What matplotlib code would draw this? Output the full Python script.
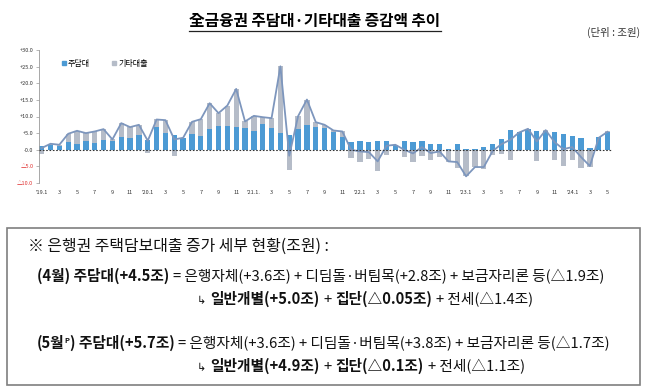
import matplotlib
matplotlib.use("Agg")
import matplotlib.pyplot as plt
import numpy as np
from matplotlib.lines import Line2D
from matplotlib.patches import Rectangle

plt.rcParams["font.family"] = ["Noto Sans CJK KR", "DejaVu Sans"]
FAMILY = ["Noto Sans CJK KR", "DejaVu Sans"]

W, H = 647, 390

# 월별 증감액 (조원), '19.1 ~ '24.5
mortgage = [
    1.0, 1.3, 1.2, 2.3, 1.7, 2.5, 2.0, 3.0, 2.5, 3.7, 3.5, 4.5,
    2.8, 6.8, 5.0, 4.3, 3.5, 4.8, 4.1, 6.3, 7.0, 7.1, 6.7, 6.5,
    5.7, 7.6, 6.4, 5.1, 4.3, 6.3, 7.3, 6.8, 6.5, 5.3, 3.8, 2.3,
    2.5, 2.3, 2.7, 2.5, 1.3, 2.5, 2.4, 2.5, 1.7, 1.7, 0.3, 1.6,
    0.1, 0.1, 0.7, 1.6, 3.2, 6.0, 5.2, 6.3, 5.5, 5.5, 5.3, 4.7,
    4.0, 3.5, 0.4, 3.8, 5.4,
]
other = [
    -1.3, 0.5, 0.3, 2.5, 4.0, 2.5, 3.5, 3.2, 0.6, 4.3, 3.3, 3.0,
    -0.9, 2.3, 3.9, -1.8, 0.1, 3.6, 5.1, 7.7, 4.0, 6.2, 11.6, 2.0,
    4.5, 2.2, 3.1, 20.0, -6.2, 3.8, 7.8, 1.5, 1.0, 0.5, 1.7, -2.5,
    -3.7, -2.9, -6.5, -1.7, 0.2, -2.2, -3.6, -1.9, -3.2, -2.3, -3.6, -5.5,
    -8.0, -5.2, -5.9, -1.7, -1.2, -3.2, -0.4, -0.2, -3.4, 0.3, -3.1, -4.9,
    -3.2, -5.6, -5.3, -0.2, 0.1,
]
total = [
    0.5, 1.8, 1.5, 4.8, 5.7, 5.0, 5.5, 6.2, 3.1, 8.0, 6.8, 7.5,
    2.7, 9.1, 8.9, 3.1, 3.6, 8.4, 9.2, 14.0, 11.0, 13.3, 18.3, 8.5,
    10.2, 9.8, 9.5, 25.1, -1.8, 10.1, 15.1, 8.3, 7.5, 5.8, 5.5, 0.0,
    -0.5, -0.7, -3.5, 1.2, 1.5, 0.0, -1.1, 0.8, -1.0, -0.5, -3.5, -3.7,
    -8.0, -5.2, -5.2, -0.4, 1.7, 3.0, 5.2, 6.3, 2.5, 5.9, 2.3, 0.2,
    0.8, -2.2, -4.9, 3.6, 5.4,
]

x_labels = [
    "'19.1", "3", "5", "7", "9", "11",
    "'20.1", "3", "5", "7", "9", "11",
    "'21.1.", "3", "5", "7", "9", "11",
    "'22.1", "3", "5", "7", "9", "11",
    "'23.1", "3", "5", "7", "9", "11",
    "'24.1", "3", "5",
]
y_ticks = [-10, -5, 0, 5, 10, 15, 20, 25, 30]
y_labels = ["△10.0", "△5.0", "-0.0", "+5.0", "+10.0", "+15.0", "+20.0", "+25.0", "+30.0"]

BLUE = "#4C9AD4"
GRAY = "#B5BCC8"
LINE = "#7D96BD"

fig = plt.figure(figsize=(W / 100, H / 100), dpi=100)

# ---- chart ----
ax = fig.add_axes([39 / W, 1 - 183 / H, 573 / W, 133 / H])
x = np.arange(len(mortgage))
mort = np.array(mortgage)
oth = np.array(other)
bottom_other = np.where(oth >= 0, np.maximum(mort, 0), np.minimum(mort, 0))
ax.bar(x, mort, width=0.6, color=BLUE, zorder=2)
ax.bar(x, oth, width=0.6, bottom=bottom_other, color=GRAY, zorder=2)
ax.plot(x, total, color=LINE, lw=1.3, zorder=3)
ax.axhline(0, color="#333333", lw=0.8, ls=(0, (1.5, 1.5)), zorder=4)

ax.set_xlim(-0.3, 64.5)
ax.set_ylim(-10, 30)
ax.set_yticks(y_ticks)
ax.set_yticklabels(y_labels, fontsize=4.0)
for lab, v in zip(ax.get_yticklabels(), y_ticks):
    lab.set_color("#E03030" if v < 0 else "#333333")
ax.set_xticks(np.arange(0, len(mortgage), 2))
ax.set_xticklabels(x_labels, fontsize=4.0, color="#333333")
ax.tick_params(axis="x", length=0, pad=5)
ax.tick_params(axis="y", length=2, width=0.5, color="#999999", pad=2)
for s in ["top", "right", "bottom"]:
    ax.spines[s].set_visible(False)
ax.spines["left"].set_color("#999999")
ax.spines["left"].set_linewidth(0.6)

handles = [
    Line2D([], [], marker="s", ls="", color=BLUE, markersize=3),
    Line2D([], [], marker="s", ls="", color=GRAY, markersize=3),
]
ax.legend(handles, ["주담대", "기타대출"], loc="upper left", bbox_to_anchor=(0.025, 0.985),
          ncol=2, frameon=False, fontsize=5.8, handletextpad=0.1, columnspacing=2.6,
          handlelength=0.8)

# ---- title ----
renderer = fig.canvas.get_renderer()
title = fig.text(315 / W, 1 - 26 / H, "全금융권 주담대·기타대출 증감액 추이", ha="center",
                 va="baseline", fontsize=11.3, fontweight="bold", family=FAMILY)
tb = title.get_window_extent(renderer)
fig.add_artist(Line2D([tb.x0 / W, tb.x1 / W], [(tb.y0 - 2) / H, (tb.y0 - 2) / H],
                      color="#222222", lw=0.9))
fig.text(640 / W, 1 - 36 / H, "(단위 : 조원)", ha="right", va="baseline", fontsize=7.5,
         color="#333333", family=FAMILY)

# ---- note box ----
fig.add_artist(Rectangle((7 / W, 1 - 385 / H), 633 / W, 157 / H, transform=fig.transFigure,
                         fill=False, ec="#7f7f7f", lw=1.2))


def draw_runs(x_px, y_px, runs, size):
    cur = x_px
    for text, weight, dy, scale, gap in runs:
        cur += gap
        t = fig.text(cur / W, 1 - (y_px - dy) / H, text, fontsize=size * scale,
                     fontweight=weight, va="baseline", ha="left", family=FAMILY,
                     color="#111111")
        cur += t.get_window_extent(renderer).width


SZ = 10.6
draw_runs(28, 251, [("※ 은행권 주택담보대출 증가 세부 현황(조원) :", "normal", 0, 1.08, 0)], SZ)
draw_runs(37, 281, [
    ("(4월) 주담대(+4.5조)", "bold", 0, 1, 0),
    ("= 은행자체(+3.6조) + 디딤돌·버팀목(+2.8조) + 보금자리론 등(△1.9조)", "normal", 0, 1, 4),
], SZ)
draw_runs(197, 304, [
    ("↳", "normal", 0, 0.75, 0),
    ("일반개별(+5.0조)", "bold", 0, 1, 4),
    ("+", "normal", 0, 1, 4),
    ("집단(△0.05조)", "bold", 0, 1, 4),
    ("+ 전세(△1.4조)", "normal", 0, 1, 4),
], SZ)
draw_runs(37, 348, [
    ("(5월", "bold", 0, 1, 0),
    ("P", "bold", 5, 0.5, 0),
    (") 주담대(+5.7조)", "bold", 0, 1, 0),
    ("= 은행자체(+3.6조) + 디딤돌·버팀목(+3.8조) + 보금자리론 등(△1.7조)", "normal", 0, 1, 4),
], SZ)
draw_runs(197, 371, [
    ("↳", "normal", 0, 0.75, 0),
    ("일반개별(+4.9조)", "bold", 0, 1, 4),
    ("+", "normal", 0, 1, 4),
    ("집단(△0.1조)", "bold", 0, 1, 4),
    ("+ 전세(△1.1조)", "normal", 0, 1, 4),
], SZ)

fig.savefig("out.png", dpi=100)
